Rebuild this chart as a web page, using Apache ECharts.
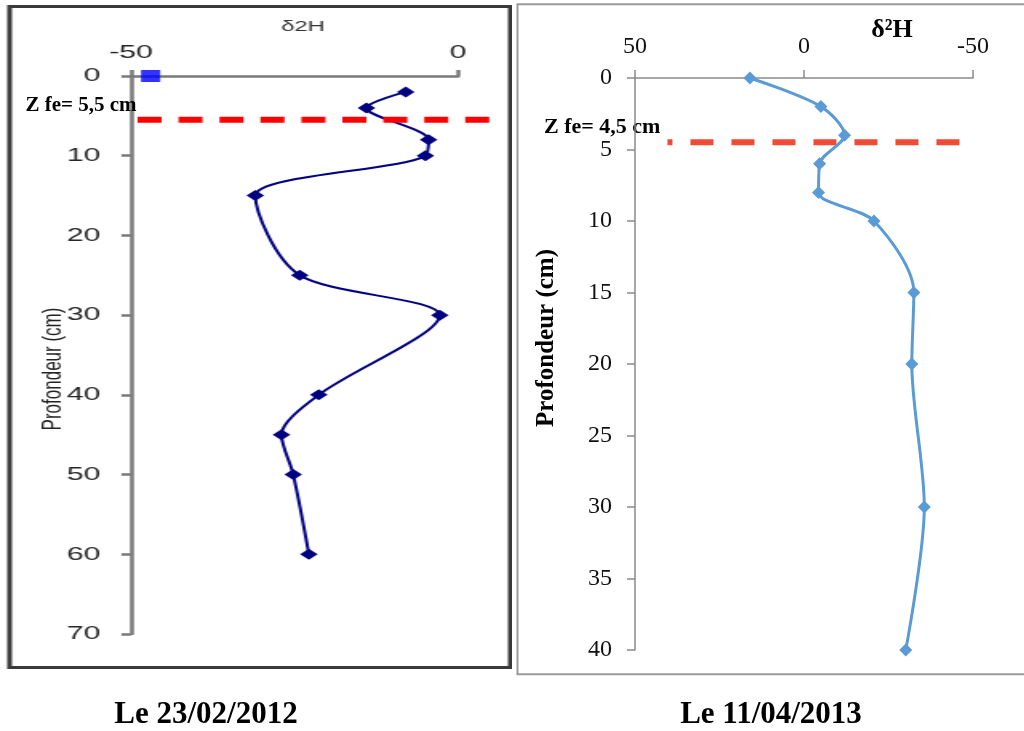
<!DOCTYPE html>
<html>
<head>
<meta charset="utf-8">
<script src="https://cdn.jsdelivr.net/npm/echarts@6/dist/echarts.min.js"></script>
<style>
  html, body { margin: 0; padding: 0; background: #fff; }
  #left { position: absolute; left: 0; top: 0; width: 320px; height: 731px;
          transform: scaleX(1.6); transform-origin: 0 0; }
  #main { position: absolute; left: 0; top: 0; width: 1024px; height: 731px; }
</style>
</head>
<body>
<div id="left"></div>
<div id="main"></div>
<script>
// Profile of 23/02/2012 : depth (cm) and δ2H (‰)
const depth2012 = [2, 4, 8, 10, 15, 25, 30, 40, 45, 50, 60];
const d2H2012   = [-8, -14, -4.5, -5, -31, -24.2, -2.8, -21.3, -27, -25.2, -22.8];
// Reference value plotted on the surface line
const refDepth2012 = [0];
const refD2H2012   = [-47];
// Evaporation front 2012
const zfe2012 = 5.5;
const zfe2012Span = [-49, 6.1];

// Profile of 11/04/2013
const depth2013 = [0, 2, 4, 6, 8, 10, 15, 20, 30, 40];
const d2H2013   = [16, -5, -12, -4.6, -4.3, -20.7, -32.5, -31.9, -35.6, -30.1];
// Evaporation front 2013
const zfe2013 = 4.5;
const zfe2013Span = [40.4, -47.5];

const zip = (xs, ys) => xs.map((x, i) => [x, ys[i]]);

// ---------- left panel (drawn at 1/1.6 width, stretched by CSS) ----------
const SX = 1.6;
const sans = 'Liberation Sans, Arial, sans-serif';
const serif = 'Liberation Serif, Times New Roman, serif';
const axisGrey = { color: '#7a7a7a', width: 2.5 };

const leftChart = echarts.init(document.getElementById('left'));
const leftGraphics = [
  { type: 'rect', shape: { x: 6, y: 6.5, width: 313, height: 661 },
    style: { fill: 'none', stroke: '#3a3a3a', lineWidth: 3 } },
  { type: 'text', x: 189.4, y: 27,
    style: { text: 'δ2H', font: '15px ' + sans, fill: '#333', align: 'center', verticalAlign: 'middle' } },
  { type: 'text', x: 33, y: 369, rotation: Math.PI / 2,
    style: { text: 'Profondeur (cm)', font: '17px ' + sans, fill: '#222', align: 'center', verticalAlign: 'middle' } }
];
leftChart.setOption({
  animation: false,
  grid: { left: 81.9, top: 76, width: 204.4, height: 558 },
  xAxis: {
    type: 'value', position: 'top', min: -50, max: 0, interval: 50,
    axisLine: { show: true, onZero: false, lineStyle: axisGrey },
    axisTick: { show: true, length: 6, lineStyle: axisGrey },
    splitLine: { show: false },
    axisLabel: { fontFamily: sans, fontSize: 19, color: '#262626', margin: 14 }
  },
  yAxis: {
    type: 'value', inverse: true, min: 0, max: 70, interval: 10,
    axisLine: { show: true, onZero: false, lineStyle: axisGrey },
    axisTick: { show: true, length: 6, lineStyle: axisGrey },
    splitLine: { show: false },
    axisLabel: { fontFamily: sans, fontSize: 19, color: '#262626', margin: 19 }
  },
  graphic: leftGraphics,
  series: [
    {
      type: 'line', data: zip(d2H2012, depth2012), smooth: 0.3,
      symbol: 'diamond', symbolSize: 11,
      itemStyle: { color: '#000080' },
      lineStyle: { color: '#000080', width: 2 }
    },
    {
      type: 'scatter', data: zip(refD2H2012, refDepth2012), clip: false,
      symbol: 'rect', symbolSize: 12, itemStyle: { color: '#0000ff' }, z: 5
    }
  ]
});

// The 2012 front line runs past the right end of the axis, so it is
// placed from the axis scale rather than clipped by the grid.
const f0 = leftChart.convertToPixel({ gridIndex: 0 }, [zfe2012Span[0], zfe2012]);
const f1 = leftChart.convertToPixel({ gridIndex: 0 }, [zfe2012Span[1], zfe2012]);
leftChart.setOption({
  graphic: leftGraphics.concat([
    { type: 'line', z: 4, silent: true,
      shape: { x1: f0[0], y1: f0[1], x2: f1[0], y2: f1[1] },
      style: { stroke: '#ff0000', lineWidth: 6, lineDash: [15, 10.6] } }
  ])
});

// ---------- right panel and page texts ----------
const axisGrey2 = { color: '#8a8a8a', width: 1.5 };
const mainChart = echarts.init(document.getElementById('main'));
mainChart.setOption({
  animation: false,
  grid: { left: 635, top: 78, width: 338, height: 572 },
  xAxis: {
    type: 'value', position: 'top', inverse: true, min: -50, max: 50, interval: 50,
    axisLine: { show: true, onZero: false, lineStyle: axisGrey2 },
    axisTick: { show: true, length: 8, lineStyle: axisGrey2 },
    splitLine: { show: false },
    axisLabel: { fontFamily: serif, fontSize: 24, color: '#111', margin: 19 }
  },
  yAxis: {
    type: 'value', inverse: true, min: 0, max: 40, interval: 5,
    axisLine: { show: true, onZero: false, lineStyle: axisGrey2 },
    axisTick: { show: true, length: 8, lineStyle: axisGrey2 },
    splitLine: { show: false },
    axisLabel: { fontFamily: serif, fontSize: 24, color: '#111', margin: 23 }
  },
  series: [
    {
      type: 'line', data: zip(d2H2013, depth2013), smooth: 0.3,
      symbol: 'diamond', symbolSize: 13,
      itemStyle: { color: '#5b9bd5' },
      lineStyle: { color: '#5b9bd5', width: 3 }
    },
    {
      type: 'line', data: zip(zfe2013Span, [zfe2013, zfe2013]), clip: false,
      symbol: 'none', silent: true, z: 1,
      lineStyle: { color: '#f04b37', width: 6, type: [23, 18], dashOffset: 18 }
    }
  ]
});

// Front labels sit just above-left of where each dashed line starts
const pR = mainChart.convertToPixel({ gridIndex: 0 }, [zfe2013Span[0], zfe2013]);

mainChart.setOption({
  graphic: [
    { type: 'rect', shape: { x: 517.5, y: 4.3, width: 520, height: 670 },
      style: { fill: 'none', stroke: '#9a9a9a', lineWidth: 2 }, z: -1 },
    { type: 'text', x: 892, y: 30,
      style: { text: 'δ²H', font: 'bold 26px ' + serif, fill: '#000', align: 'center', verticalAlign: 'middle' } },
    { type: 'text', x: 547, y: 338, rotation: Math.PI / 2,
      style: { text: 'Profondeur (cm)', font: 'bold 25px ' + serif, fill: '#000', align: 'center', verticalAlign: 'middle' } },
    { type: 'text', x: f0[0] * SX - 1, y: f0[1] - 14,
      style: { text: 'Z fe= 5,5 cm', font: 'bold 21px ' + serif, fill: '#000', align: 'right', verticalAlign: 'middle' } },
    { type: 'text', x: pR[0] - 7, y: pR[1] - 15,
      style: { text: 'Z fe= 4,5 cm', font: 'bold 22px ' + serif, fill: '#000', align: 'right', verticalAlign: 'middle' } },
    { type: 'text', x: 206, y: 715,
      style: { text: 'Le 23/02/2012', font: 'bold 31px ' + serif, fill: '#000', align: 'center', verticalAlign: 'middle' } },
    { type: 'text', x: 771, y: 715,
      style: { text: 'Le 11/04/2013', font: 'bold 31px ' + serif, fill: '#000', align: 'center', verticalAlign: 'middle' } }
  ]
});
</script>
</body>
</html>
